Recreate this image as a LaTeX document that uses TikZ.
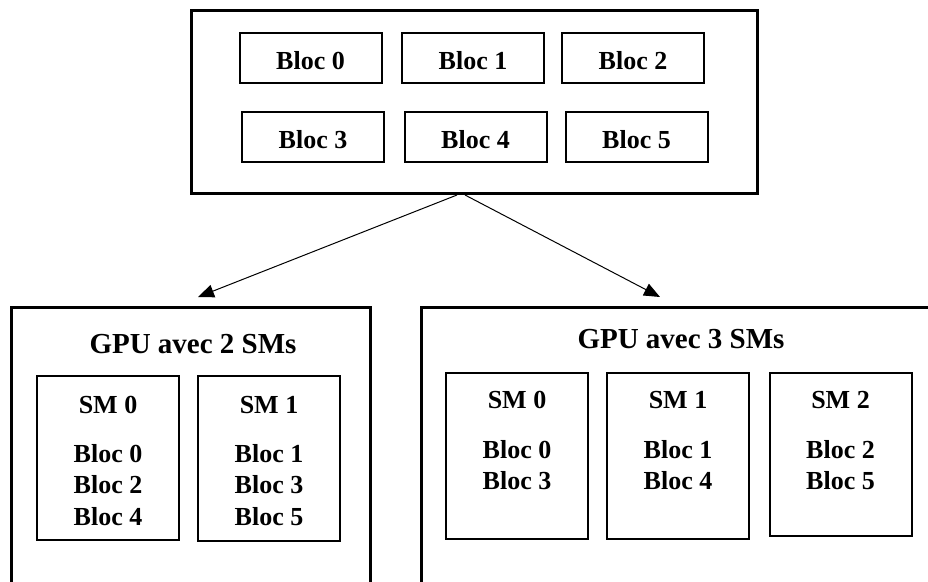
\documentclass[tikz,border=0pt]{standalone}
\usepackage{fontspec}
\setmainfont{Liberation Serif}
\usetikzlibrary{arrows.meta}
\begin{document}
\begin{tikzpicture}[x=1pt,y=-1pt,
  outer/.style={draw, line width=3pt, inner sep=0pt},
  blocbox/.style={draw, line width=2pt, inner sep=0pt, minimum width=142pt, minimum height=50pt,
    text height=23pt, text depth=0pt, font=\bfseries\fontsize{26}{31}\selectfont},
  smbox/.style={draw, line width=2pt, inner sep=0pt, minimum width=142pt},
  lbl/.style={inner sep=0pt, anchor=base, font=\bfseries\fontsize{26}{31}\selectfont},
  ttl/.style={inner sep=0pt, anchor=base, font=\bfseries\fontsize{29}{34}\selectfont},
  conn/.style={line width=1pt, -{Triangle[length=16pt,width=13pt]}}
]
\useasboundingbox (0,0) rectangle (928,581);
\clip (0,0) rectangle (928,581);

% top box with blocks
\node[outer, minimum width=566pt, minimum height=183pt] (grid) at (474.5,102) {};
\node[blocbox] (b0) at (310.5,58) {Bloc 0};
\node[blocbox] (b1) at (473,58) {Bloc 1};
\node[blocbox] (b2) at (633,58) {Bloc 2};
\node[blocbox] (b3) at (313,137) {Bloc 3};
\node[blocbox] (b4) at (475.5,137) {Bloc 4};
\node[blocbox] (b5) at (636.5,137) {Bloc 5};

% GPU boxes (extend beyond the page)
\node[outer, minimum width=359pt, minimum height=320pt] (gpuA) at (191,467.5) {};
\node[outer, minimum width=520pt, minimum height=320pt] (gpuB) at (681.5,467.5) {};
\node[ttl] (tA) at (193,353) {GPU avec 2 SMs};
\node[ttl] (tB) at (681,348) {GPU avec 3 SMs};

% GPU with 2 SMs
\node[smbox, minimum height=164pt] (a0) at (108,458) {};
\node[smbox, minimum height=165pt] (a1) at (269,458.5) {};
\node[lbl] (a0t) at (108,413) {SM 0};
\node[lbl] (a0b0) at (108,462) {Bloc 0};
\node[lbl] (a0b1) at (108,493) {Bloc 2};
\node[lbl] (a0b2) at (108,525) {Bloc 4};
\node[lbl] (a1t) at (269,413) {SM 1};
\node[lbl] (a1b0) at (269,462) {Bloc 1};
\node[lbl] (a1b1) at (269,493) {Bloc 3};
\node[lbl] (a1b2) at (269,525) {Bloc 5};

% GPU with 3 SMs
\node[smbox, minimum height=166pt] (c0) at (517,456) {};
\node[smbox, minimum height=166pt] (c1) at (678,456) {};
\node[smbox, minimum height=163pt] (c2) at (840.5,454.5) {};
\node[lbl] (c0t) at (517,408) {SM 0};
\node[lbl] (c0b0) at (517,458) {Bloc 0};
\node[lbl] (c0b1) at (517,489) {Bloc 3};
\node[lbl] (c1t) at (678,408) {SM 1};
\node[lbl] (c1b0) at (678,458) {Bloc 1};
\node[lbl] (c1b1) at (678,489) {Bloc 4};
\node[lbl] (c2t) at (840.5,408) {SM 2};
\node[lbl] (c2b0) at (840.5,458) {Bloc 2};
\node[lbl] (c2b1) at (840.5,489) {Bloc 5};

% connectors
\coordinate (tipA) at (198,297);
\coordinate (tipB) at (660,297);
\draw[conn] ([xshift=-17.5pt]grid.south) -- (tipA);
\draw[conn] ([xshift=-9.5pt]grid.south) -- (tipB);
\end{tikzpicture}
\end{document}
